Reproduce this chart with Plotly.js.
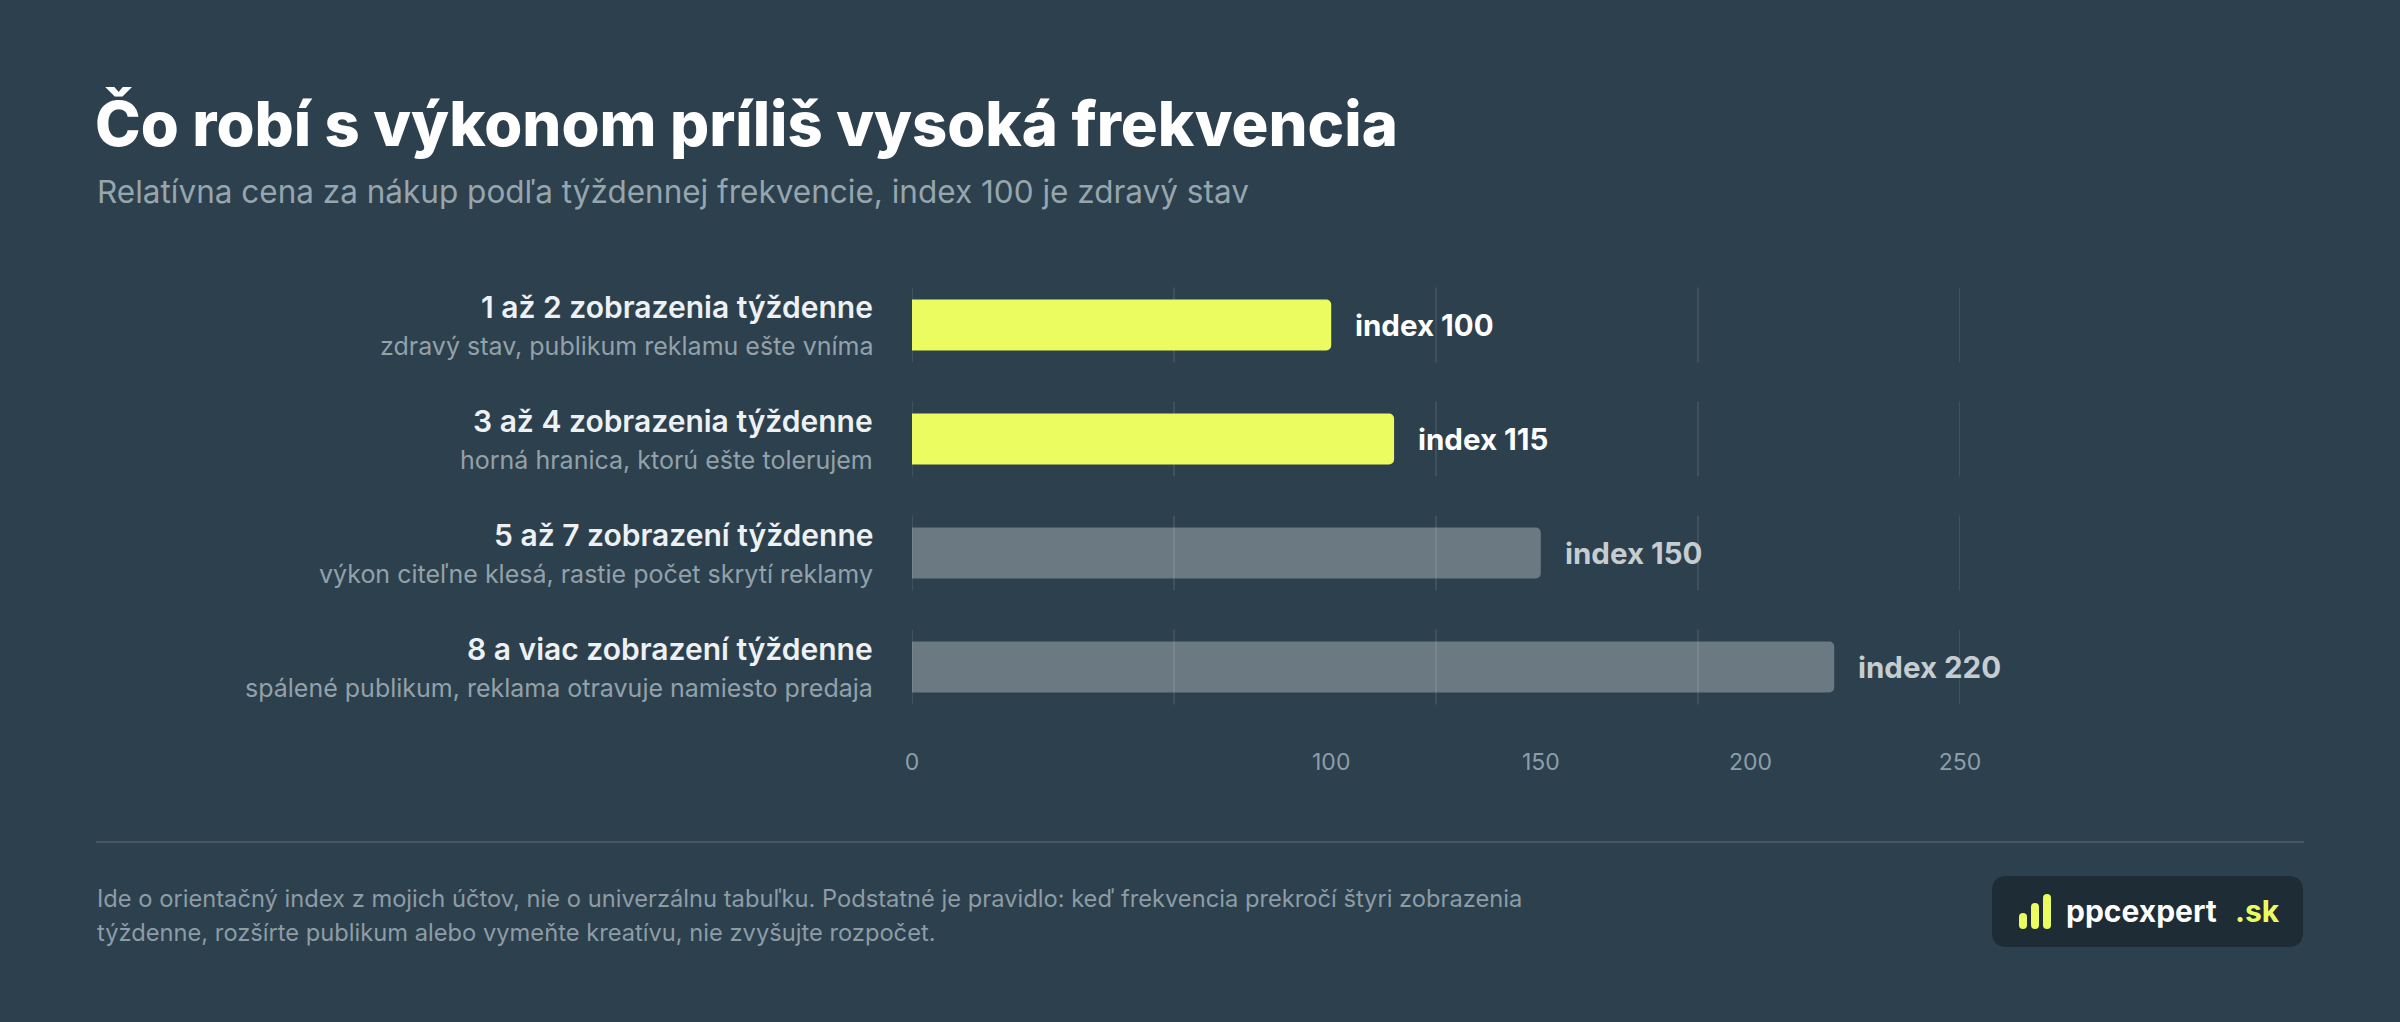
<!DOCTYPE html>
<html>
<head>
<meta charset="utf-8">
<script src="https://cdn.plot.ly/plotly-3.0.1.min.js"></script>
<style>
  html, body { margin: 0; padding: 0; background: #2c404e; }
  #chart { width: 2400px; height: 1022px; }
</style>
</head>
<body>
<div id="chart"></div>
<script>
// ---- data ----
const categories = [
  '1 až 2 zobrazenia týždenne',
  '3 až 4 zobrazenia týždenne',
  '5 až 7 zobrazení týždenne',
  '8 a viac zobrazení týždenne'
];
const descriptions = [
  'zdravý stav, publikum reklamu ešte vníma',
  'horná hranica, ktorú ešte tolerujem',
  'výkon citeľne klesá, rastie počet skrytí reklamy',
  'spálené publikum, reklama otravuje namiesto predaja'
];
const indexValues = [100, 115, 150, 220];
const withinLimit = [true, true, false, false];
const tickValues = [0, 100, 150, 200, 250];
const tickLabels = ['0', '100', '150', '200', '250'];
const gridValues = [0, 62.5, 125, 187.5, 250];

const titleText = 'Čo robí s výkonom príliš vysoká frekvencia';
const subtitleText = 'Relatívna cena za nákup podľa týždennej frekvencie, index 100 je zdravý stav';
const footerLines = [
  'Ide o orientačný index z mojich účtov, nie o univerzálnu tabuľku. Podstatné je pravidlo: keď frekvencia prekročí štyri zobrazenia',
  'týždenne, rozšírte publikum alebo vymeňte kreatívu, nie zvyšujte rozpočet.'
];
const brandName = 'ppcexpert';
const brandSuffix = '.sk';

// ---- style ----
const W = 2400, H = 1022;
const ML = 912, MR = 440, MT = 268, MB = 298;
const PW = W - ML - MR, PH = H - MT - MB;
const BG = '#2c404e';
const YELLOW = '#ebfc60';
const GREY_BAR = 'rgba(255,255,255,0.30)';
const FONT = 'Inter, "Open Sans", sans-serif';

const px = x => (x - ML) / PW;         // pixel x -> paper
const py = y => 1 - (y - MT) / PH;     // pixel y -> paper

const barColors = withinLimit.map(h => h ? YELLOW : GREY_BAR);
const labelColors = withinLimit.map(h => h ? '#ffffff' : '#c6cdd1');

const trace = {
  type: 'bar',
  orientation: 'h',
  x: indexValues,
  y: categories,
  marker: { color: barColors, line: { width: 0 } },
  hoverinfo: 'skip',
  cliponaxis: false
};

function roundedRect(x0, y0, x1, y1, r) {
  const X = v => px(v), Y = v => py(v);
  return [
    'M', X(x0 + r), Y(y0),
    'L', X(x1 - r), Y(y0),
    'Q', X(x1), Y(y0), X(x1), Y(y0 + r),
    'L', X(x1), Y(y1 - r),
    'Q', X(x1), Y(y1), X(x1 - r), Y(y1),
    'L', X(x0 + r), Y(y1),
    'Q', X(x0), Y(y1), X(x0), Y(y1 - r),
    'L', X(x0), Y(y0 + r),
    'Q', X(x0), Y(y0), X(x0 + r), Y(y0),
    'Z'
  ].join(' ');
}

const shapes = [];
categories.forEach((c, i) => {
  gridValues.forEach(g => {
    shapes.push({
      type: 'line', xref: 'x', yref: 'y', layer: 'below',
      x0: g, x1: g, y0: i - 0.33, y1: i + 0.33,
      line: { color: 'rgba(255,255,255,0.09)', width: 2 }
    });
  });
});
// footer separator
shapes.push({
  type: 'line', xref: 'paper', yref: 'paper',
  x0: px(96), x1: px(2304), y0: py(842), y1: py(842),
  line: { color: 'rgba(255,255,255,0.12)', width: 2 }
});
// logo box
shapes.push({
  type: 'path', xref: 'paper', yref: 'paper', layer: 'below',
  path: roundedRect(1992, 876, 2303, 947, 15),
  fillcolor: '#1e2c35', line: { width: 0 }
});
// logo icon bars
[[2019, 913], [2031, 903], [2043, 894]].forEach(([x, top]) => {
  shapes.push({
    type: 'path', xref: 'paper', yref: 'paper',
    path: roundedRect(x, top, x + 8, 929, 4),
    fillcolor: YELLOW, line: { width: 0 }
  });
});

const annotations = [];
categories.forEach((c, i) => {
  annotations.push({
    xref: 'paper', yref: 'y', x: 0, y: c, xanchor: 'right', yanchor: 'middle',
    xshift: -37, yshift: 18, showarrow: false, text: c,
    font: { family: FONT, size: 30, color: '#eef1f3', weight: 600 }
  });
  annotations.push({
    xref: 'paper', yref: 'y', x: 0, y: c, xanchor: 'right', yanchor: 'middle',
    xshift: -37, yshift: -21, showarrow: false, text: descriptions[i],
    font: { family: FONT, size: 25, color: '#93a1a9', weight: 400 }
  });
  annotations.push({
    xref: 'x', yref: 'y', x: indexValues[i], y: c, xanchor: 'left', yanchor: 'middle',
    xshift: 22, showarrow: false, text: 'index ' + indexValues[i],
    font: { family: FONT, size: 29.5, color: labelColors[i], weight: 700 }
  });
});
annotations.push({
  xref: 'paper', yref: 'paper', x: px(95), y: py(191), xanchor: 'left', yanchor: 'middle',
  showarrow: false, text: subtitleText,
  font: { family: FONT, size: 31.5, color: '#97a5ad', weight: 400 }
});
footerLines.forEach((t, i) => {
  annotations.push({
    xref: 'paper', yref: 'paper', x: px(95), y: py(898 + i * 34), xanchor: 'left', yanchor: 'middle',
    showarrow: false, text: t,
    font: { family: FONT, size: 23.7, color: '#8d9ca5', weight: 400 }
  });
});
annotations.push({
  xref: 'paper', yref: 'paper', x: px(2064), y: py(911), xanchor: 'left', yanchor: 'middle',
  showarrow: false, text: brandName,
  font: { family: FONT, size: 30, color: '#ffffff', weight: 700 }
});
annotations.push({
  xref: 'paper', yref: 'paper', x: px(2233), y: py(911), xanchor: 'left', yanchor: 'middle',
  showarrow: false, text: brandSuffix,
  font: { family: FONT, size: 30, color: YELLOW, weight: 700 }
});

const layout = {
  width: W, height: H,
  paper_bgcolor: BG, plot_bgcolor: BG,
  margin: { l: ML, r: MR, t: MT, b: MB, pad: 0 },
  showlegend: false,
  hovermode: false,
  bargap: 0.553,
  barcornerradius: 5,
  title: {
    text: titleText,
    xref: 'container', yref: 'container',
    x: 95 / W, xanchor: 'left',
    y: 1 - 124 / H, yanchor: 'middle',
    font: { family: FONT, size: 61.5, color: '#ffffff', weight: 800 }
  },
  xaxis: {
    range: [0, 250],
    tickvals: tickValues,
    ticktext: tickLabels,
    showgrid: false, zeroline: false, showline: false,
    ticks: '',
    ticklabelstandoff: 22,
    tickfont: { family: FONT, size: 23, color: '#8e9ea8' },
    fixedrange: true
  },
  yaxis: {
    type: 'category',
    categoryarray: categories,
    range: [3.5, -0.5],
    showticklabels: false, showgrid: false, zeroline: false, showline: false,
    fixedrange: true
  },
  shapes: shapes,
  annotations: annotations
};

Plotly.newPlot('chart', [trace], layout, { displayModeBar: false, staticPlot: true });
</script>
</body>
</html>
